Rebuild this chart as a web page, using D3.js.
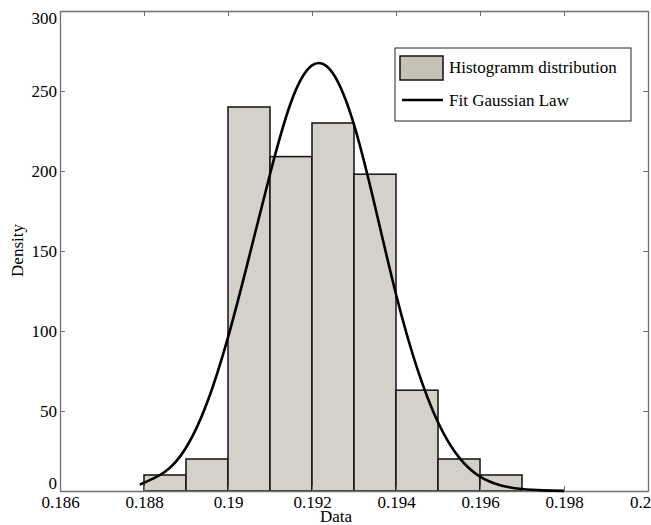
<!DOCTYPE html>
<html><head><meta charset="utf-8">
<script src="https://cdn.jsdelivr.net/npm/d3@7"></script>
<style>
html,body{margin:0;padding:0;background:#fff;}
svg{display:block;}
text{font-family:"Liberation Serif","Times New Roman",serif;}
</style></head>
<body>
<svg id="chart" width="651" height="525"></svg>
<script>
// Histogram bins (left edge, right edge) and densities
const binStarts = [0.188, 0.189, 0.190, 0.191, 0.192, 0.193, 0.194, 0.195, 0.196];
const binEnds   = [0.189, 0.190, 0.191, 0.192, 0.193, 0.194, 0.195, 0.196, 0.197];
const densities = [10, 20, 240, 209, 230, 198, 63, 20, 10];

// Fitted Gaussian curve points
const fitX = [0.1879, 0.1885, 0.189, 0.1895, 0.190, 0.1905, 0.191, 0.1915, 0.192, 0.1925, 0.193, 0.1935, 0.194, 0.1945, 0.195, 0.1955, 0.196, 0.1965, 0.197, 0.1975, 0.198];
const fitY = [4, 12, 27, 55, 96, 146, 198, 243, 266, 261, 229, 178, 123, 77, 43, 21, 9, 3.5, 1.2, 0.4, 0.1];

const xTicks = [0.186, 0.188, 0.19, 0.192, 0.194, 0.196, 0.198, 0.2];
const yTicks = [0, 50, 100, 150, 200, 250, 300];
const legendLabels = ["Histogramm distribution", "Fit Gaussian Law"];

const svg = d3.select("#chart");
const L = 60, R = 648, T = 11, B = 491;
const x = d3.scaleLinear().domain([0.186, 0.2]).range([L, R]);
const y = d3.scaleLinear().domain([0, 300]).range([B, T]);
const axisColor = "#707070";
const fontSize = 17;

// bars
svg.append("g").selectAll("rect").data(densities).join("rect")
  .attr("x", (d,i) => x(binStarts[i]))
  .attr("y", d => y(d))
  .attr("width", (d,i) => x(binEnds[i]) - x(binStarts[i]))
  .attr("height", d => y(0) - y(d))
  .attr("fill", "#d4d1cb")
  .attr("stroke", "#111")
  .attr("stroke-width", 1.5);

// axes
function styleAxis(g){
  g.attr("font-size", fontSize).attr("font-family", '"Liberation Serif","Times New Roman",serif');
  g.select(".domain").attr("stroke", axisColor).attr("stroke-width", 1.3);
  g.selectAll(".tick line").attr("stroke", axisColor).attr("stroke-width", 1);
  g.selectAll(".tick text").attr("fill", "#000");
}
const fmt = d => String(+d.toFixed(3));
const xAxis = svg.append("g").attr("transform", `translate(0,${B})`)
  .call(d3.axisBottom(x).tickValues(xTicks).tickFormat(fmt).tickSizeInner(-5).tickSizeOuter(0).tickPadding(5));
styleAxis(xAxis);
xAxis.selectAll(".tick text").attr("dy", "0.71em").attr("dx", d => d === 0.2 ? -8 : 0);

const xTop = svg.append("g").attr("transform", `translate(0,${T})`)
  .call(d3.axisTop(x).tickValues(xTicks).tickFormat("").tickSizeInner(-5).tickSizeOuter(0));
styleAxis(xTop);

const yAxis = svg.append("g").attr("transform", `translate(${L},0)`)
  .call(d3.axisLeft(y).tickValues(yTicks).tickSizeInner(-5).tickSizeOuter(0).tickPadding(3));
styleAxis(yAxis);
yAxis.selectAll(".tick text").attr("dy", d => d === 300 ? "0.75em" : (d === 0 ? "-0.15em" : "0.32em"));

const yRight = svg.append("g").attr("transform", `translate(${R},0)`)
  .call(d3.axisRight(y).tickValues(yTicks).tickFormat("").tickSizeInner(-5).tickSizeOuter(0));
styleAxis(yRight);

// fitted curve
const pts = fitX.map((v,i) => [v, fitY[i]]);
svg.append("path").datum(pts)
  .attr("fill", "none").attr("stroke", "#000").attr("stroke-width", 2.6)
  .attr("d", d3.line().x(d => x(d[0])).y(d => y(d[1])).curve(d3.curveNatural));

// axis labels
svg.append("text").attr("x", 336).attr("y", 522).attr("text-anchor", "middle")
  .style("font-size", fontSize + "px").text("Data");
svg.append("text").attr("transform", "translate(23,250.5) rotate(-90)").attr("text-anchor", "middle")
  .style("font-size", fontSize + "px").text("Density");

// legend
const lg = svg.append("g");
lg.append("rect").attr("x", 395).attr("y", 48).attr("width", 236).attr("height", 73)
  .attr("fill", "#fff").attr("stroke", "#222").attr("stroke-width", 1);
lg.append("rect").attr("x", 400).attr("y", 56).attr("width", 43).attr("height", 24)
  .attr("fill", "#c3c2b4").attr("stroke", "#111").attr("stroke-width", 1.5);
lg.append("line").attr("x1", 402).attr("x2", 443).attr("y1", 100).attr("y2", 100)
  .attr("stroke", "#000").attr("stroke-width", 2.6);
lg.selectAll("text.lab").data(legendLabels).join("text").attr("class", "lab")
  .attr("x", 449).attr("y", (d,i) => i === 0 ? 73 : 105.5)
  .style("font-size", fontSize + "px").text(d => d);
</script>
</body></html>
